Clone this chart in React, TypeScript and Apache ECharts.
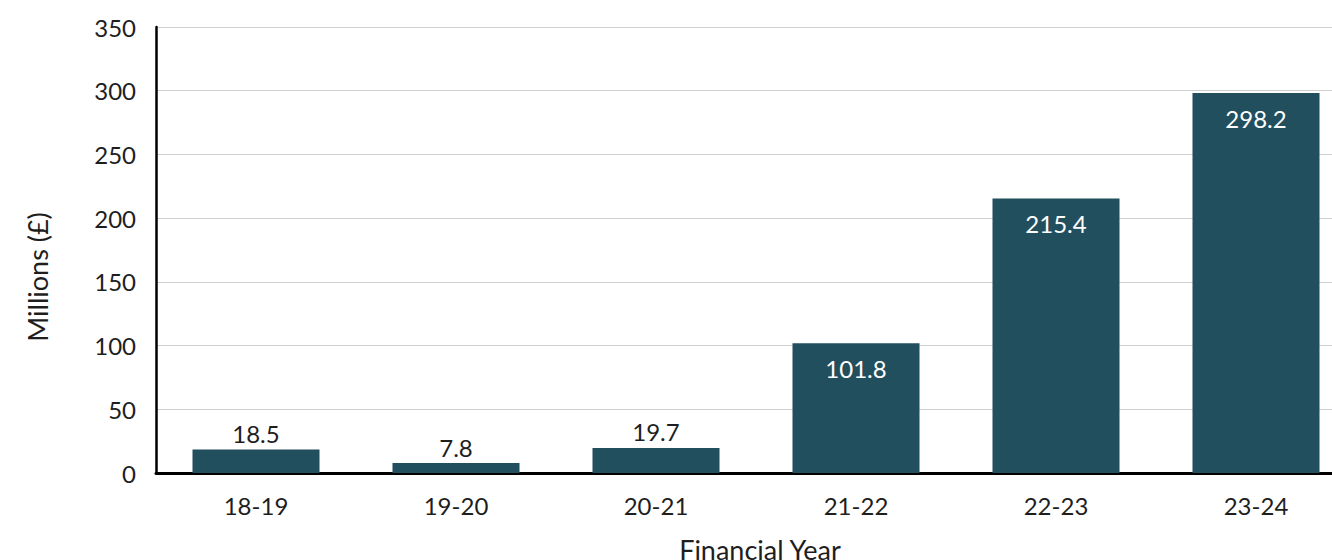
import React, { useEffect, useRef } from "react";
import * as echarts from "echarts";

const categories = ["18-19", "19-20", "20-21", "21-22", "22-23", "23-24"];
const values = [18.5, 7.8, 19.7, 101.8, 215.4, 298.2];
const yTicks = { min: 0, max: 350, interval: 50 };

const FONT = "Lato, 'Noto Sans', sans-serif";
const BAR = "#224f5e";
const TXT = "#1e1e1e";

export default function App() {
  const ref = useRef<HTMLDivElement>(null);
  useEffect(() => {
    document.body.style.margin = "0";
    const chart = echarts.init(ref.current!, null, { renderer: "svg" });
    chart.setOption({
      animation: false,
      grid: { left: 156, right: -24, top: 27, bottom: 87, outerBoundsMode: "none", containLabel: false },
      xAxis: {
        type: "category",
        data: categories,
        name: "Financial Year",
        nameLocation: "middle",
        nameGap: 63,
        nameTextStyle: { fontFamily: FONT, fontSize: 27, color: TXT, padding: [0, 0, 0, 8] },
        axisLine: { lineStyle: { color: "#000", width: 3 } },
        axisTick: { show: false },
        axisLabel: { fontFamily: FONT, fontSize: 24, color: TXT, margin: 20 },
      },
      yAxis: {
        type: "value",
        min: yTicks.min,
        max: yTicks.max,
        interval: yTicks.interval,
        name: "Millions (£)",
        nameLocation: "middle",
        nameGap: 105,
        nameRotate: 90,
        nameTextStyle: { fontFamily: FONT, fontSize: 27, color: TXT, padding: [0, 54, 0, 0] },
        axisLine: { show: true, lineStyle: { color: "#000", width: 2.5 } },
        axisTick: { show: false },
        axisLabel: { fontFamily: FONT, fontSize: 24, color: TXT, margin: 20 },
        splitLine: { lineStyle: { color: "#d0d0d0", width: 1 } },
      },
      series: [
        {
          type: "bar",
          barWidth: "63.5%",
          itemStyle: { color: BAR },
          data: values.map((v) => ({
            value: v,
            label:
              v < 50
                ? { show: true, position: "top", color: TXT, distance: 4 }
                : { show: true, position: "insideTop", color: "#fff", distance: 13 },
          })),
          label: { fontFamily: FONT, fontSize: 24 },
        },
      ],
    });
    return () => chart.dispose();
  }, []);
  return <div ref={ref} style={{ width: 1332, height: 560 }} />;
}
